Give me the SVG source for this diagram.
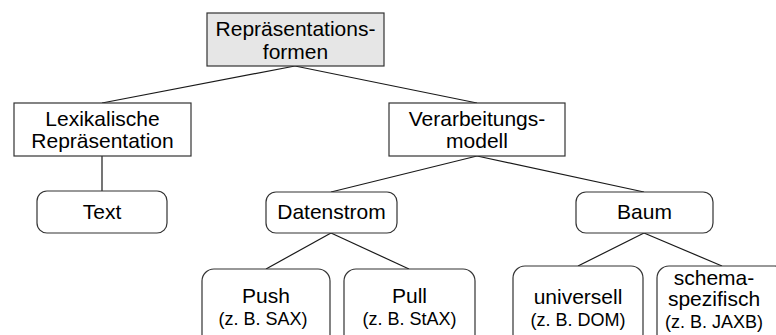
<svg xmlns="http://www.w3.org/2000/svg" width="776" height="335" viewBox="0 0 776 335">
  <style>
    .box { fill: #ffffff; stroke: #333333; stroke-width: 1.2; }
    .root { fill: #e6e6e6; }
    .edge { stroke: #1a1a1a; stroke-width: 1.2; fill: none; }
    .lbl { font-family: "Liberation Sans", Arial, sans-serif; font-size: 21px; fill: #000; text-anchor: middle; }
    .sub { font-family: "Liberation Sans", Arial, sans-serif; font-size: 18px; fill: #000; text-anchor: middle; }
  </style>
  <rect width="776" height="335" fill="#ffffff"/>

  <g id="connectors">
    <line class="edge" x1="295" y1="66" x2="102" y2="103"/>
    <line class="edge" x1="295" y1="66" x2="477" y2="103"/>
    <line class="edge" x1="102" y1="156" x2="102" y2="191"/>
    <line class="edge" x1="477" y1="156" x2="331" y2="192"/>
    <line class="edge" x1="477" y1="156" x2="644" y2="192"/>
    <line class="edge" x1="331" y1="233" x2="266" y2="269"/>
    <line class="edge" x1="331" y1="233" x2="409" y2="269"/>
    <line class="edge" x1="644" y1="233" x2="578" y2="266"/>
    <line class="edge" x1="644" y1="233" x2="722" y2="266"/>
  </g>

  <g id="repraesentationsformen">
    <rect class="box root" x="207" y="13" width="177" height="53"/>
    <text class="lbl" x="295.5" y="36">Repräsentations-</text>
    <text class="lbl" x="295.5" y="59">formen</text>
  </g>

  <g id="lexikalische">
    <rect class="box" x="14" y="103" width="177" height="53"/>
    <text class="lbl" x="102.5" y="126">Lexikalische</text>
    <text class="lbl" x="102.5" y="148">Repräsentation</text>
  </g>

  <g id="verarbeitungsmodell">
    <rect class="box" x="389" y="103" width="176" height="53"/>
    <text class="lbl" x="477" y="126">Verarbeitungs-</text>
    <text class="lbl" x="477" y="148">modell</text>
  </g>

  <g id="text">
    <rect class="box" x="37" y="191" width="130" height="42" rx="10"/>
    <text class="lbl" x="102" y="219">Text</text>
  </g>

  <g id="datenstrom">
    <rect class="box" x="266" y="192" width="131" height="41" rx="10"/>
    <text class="lbl" x="331.5" y="219">Datenstrom</text>
  </g>

  <g id="baum">
    <rect class="box" x="576" y="192" width="137" height="41" rx="10"/>
    <text class="lbl" x="644.5" y="219">Baum</text>
  </g>

  <g id="push">
    <rect class="box" x="202" y="269" width="128" height="80" rx="12"/>
    <text class="lbl" x="266" y="303">Push</text>
    <text class="sub" x="263" y="325">(z. B. SAX)</text>
  </g>

  <g id="pull">
    <rect class="box" x="344" y="269" width="131" height="80" rx="12"/>
    <text class="lbl" x="409.5" y="303">Pull</text>
    <text class="sub" x="409.5" y="325">(z. B. StAX)</text>
  </g>

  <g id="universell">
    <rect class="box" x="513" y="266" width="130" height="80" rx="12"/>
    <text class="lbl" x="578" y="304">universell</text>
    <text class="sub" x="578" y="326">(z. B. DOM)</text>
  </g>

  <g id="schemaspezifisch">
    <rect class="box" x="657" y="266" width="130" height="80" rx="12"/>
    <text class="lbl" x="714" y="285">schema-</text>
    <text class="lbl" x="714" y="306">spezifisch</text>
    <text class="sub" x="714" y="328">(z. B. JAXB)</text>
  </g>
</svg>
